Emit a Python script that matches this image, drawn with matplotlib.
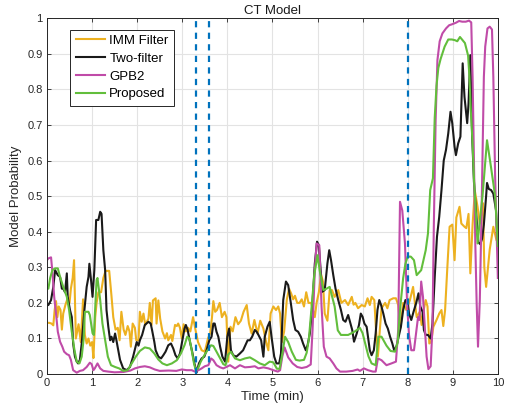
import numpy as np
import matplotlib
matplotlib.use('Agg')
import matplotlib.pyplot as plt

plt.rcParams['font.family'] = ['Liberation Sans', 'DejaVu Sans']

# IMM Filter
t_imm = [0.0, 0.05, 0.1, 0.14, 0.17, 0.2, 0.23, 0.26, 0.3, 0.33, 0.36, 0.41, 0.45, 0.5, 0.53, 0.57, 0.6,
         0.64, 0.7, 0.75, 0.8, 0.84, 0.88, 0.92, 0.96, 1.0, 1.03, 1.07, 1.1, 1.14, 1.2, 1.25, 1.3, 1.38,
         1.43, 1.47, 1.52, 1.57, 1.61, 1.65, 1.7, 1.74, 1.79, 1.83, 1.86, 1.9, 1.95, 1.98, 2.03, 2.06,
         2.1, 2.14, 2.18, 2.25, 2.28, 2.32, 2.35, 2.41, 2.43, 2.47, 2.51, 2.56, 2.62, 2.66, 2.69, 2.75,
         2.78, 2.84, 2.88, 2.91, 2.95, 2.99, 3.03, 3.08, 3.13, 3.18, 3.24, 3.3, 3.35, 3.43, 3.5, 3.57,
         3.62, 3.66, 3.69, 3.73, 3.77, 3.83, 3.88, 3.94, 3.98, 4.02, 4.07, 4.12, 4.18, 4.24, 4.3, 4.36,
         4.43, 4.48, 4.54, 4.6, 4.67, 4.73, 4.8, 4.86, 4.91, 4.96, 5.02, 5.08, 5.13, 5.17, 5.21, 5.26,
         5.32, 5.37, 5.42, 5.46, 5.5, 5.55, 5.6, 5.65, 5.7, 5.75, 5.8, 5.86, 5.9, 5.94, 5.98, 6.03,
         6.08, 6.12, 6.16, 6.22, 6.27, 6.32, 6.38, 6.46, 6.53, 6.61, 6.68, 6.76, 6.8, 6.84, 6.9, 6.98,
         7.05, 7.11, 7.16, 7.2, 7.26, 7.3, 7.34, 7.38, 7.42, 7.5, 7.55, 7.6, 7.68, 7.74, 7.79, 7.84,
         7.9, 7.97, 8.05, 8.12, 8.16, 8.2, 8.27, 8.31, 8.34, 8.4, 8.44, 8.48, 8.52, 8.57, 8.64, 8.7,
         8.75, 8.79, 8.83, 8.88, 8.93, 8.99, 9.04, 9.08, 9.15, 9.19, 9.26, 9.3, 9.35, 9.39, 9.44, 9.49,
         9.55, 9.6, 9.67, 9.7, 9.74, 9.82, 9.9, 9.97, 10.0]
p_imm = [0.144, 0.144, 0.142, 0.137, 0.18, 0.205, 0.16, 0.19, 0.18, 0.125, 0.17, 0.195, 0.21, 0.2, 0.24,
         0.27, 0.32, 0.1, 0.14, 0.09, 0.21, 0.11, 0.086, 0.1, 0.08, 0.09, 0.045, 0.16, 0.2, 0.23, 0.23,
         0.27, 0.29, 0.29, 0.22, 0.16, 0.125, 0.13, 0.095, 0.175, 0.125, 0.11, 0.135, 0.12, 0.077, 0.142,
         0.13, 0.095, 0.095, 0.175, 0.147, 0.17, 0.138, 0.156, 0.2, 0.138, 0.207, 0.213, 0.142, 0.207,
         0.156, 0.12, 0.1, 0.115, 0.095, 0.11, 0.093, 0.138, 0.135, 0.142, 0.13, 0.1, 0.14, 0.12, 0.13,
         0.12, 0.16, 0.12, 0.09, 0.067, 0.063, 0.1, 0.115, 0.16, 0.205, 0.175, 0.18, 0.2, 0.16, 0.175,
         0.16, 0.035, 0.133, 0.12, 0.16, 0.14, 0.15, 0.175, 0.194, 0.142, 0.114, 0.152, 0.114, 0.15,
         0.128, 0.09, 0.067, 0.17, 0.19, 0.18, 0.19, 0.17, 0.09, 0.12, 0.21, 0.24, 0.225, 0.21, 0.22,
         0.2, 0.2, 0.21, 0.19, 0.23, 0.2, 0.2, 0.18, 0.16, 0.2, 0.23, 0.28, 0.26, 0.17, 0.15, 0.236,
         0.236, 0.217, 0.236, 0.2, 0.208, 0.194, 0.217, 0.195, 0.2, 0.185, 0.194, 0.19, 0.213, 0.194,
         0.217, 0.208, 0.12, 0.05, 0.12, 0.185, 0.2, 0.185, 0.208, 0.213, 0.213, 0.194, 0.13, 0.2, 0.18,
         0.208, 0.245, 0.2, 0.16, 0.175, 0.138, 0.17, 0.208, 0.19, 0.086, 0.09, 0.133, 0.152, 0.17,
         0.18, 0.135, 0.18, 0.3, 0.414, 0.42, 0.32, 0.44, 0.47, 0.423, 0.414, 0.41, 0.45, 0.283, 0.42,
         0.515, 0.47, 0.423, 0.48, 0.3, 0.245, 0.35, 0.414, 0.376, 0.41]

# Two-filter
t_two = [0.0, 0.03, 0.09, 0.14, 0.18, 0.24, 0.29, 0.33, 0.36, 0.4, 0.44, 0.46, 0.51, 0.55, 0.58, 0.62,
         0.66, 0.69, 0.73, 0.77, 0.83, 0.88, 0.92, 0.94, 0.98, 1.01, 1.05, 1.09, 1.14, 1.18, 1.21, 1.25,
         1.29, 1.32, 1.36, 1.4, 1.43, 1.47, 1.51, 1.54, 1.62, 1.69, 1.77, 1.84, 1.91, 1.99, 2.03, 2.06,
         2.11, 2.17, 2.25, 2.3, 2.33, 2.38, 2.41, 2.47, 2.53, 2.58, 2.63, 2.69, 2.75, 2.8, 2.85, 2.9,
         2.95, 2.99, 3.05, 3.08, 3.12, 3.17, 3.22, 3.27, 3.32, 3.37, 3.43, 3.49, 3.54, 3.6, 3.65, 3.69,
         3.72, 3.76, 3.8, 3.84, 3.89, 3.95, 4.0, 4.04, 4.08, 4.13, 4.2, 4.28, 4.35, 4.4, 4.45, 4.5,
         4.55, 4.61, 4.65, 4.69, 4.75, 4.8, 4.83, 4.89, 4.94, 4.98, 5.04, 5.09, 5.15, 5.19, 5.24, 5.3,
         5.35, 5.41, 5.46, 5.51, 5.57, 5.63, 5.68, 5.74, 5.78, 5.83, 5.88, 5.94, 5.99, 6.03, 6.07, 6.1,
         6.16, 6.22, 6.26, 6.3, 6.35, 6.4, 6.46, 6.52, 6.57, 6.62, 6.68, 6.72, 6.77, 6.81, 6.87, 6.92,
         6.96, 7.0, 7.04, 7.09, 7.13, 7.16, 7.2, 7.25, 7.29, 7.33, 7.37, 7.41, 7.46, 7.51, 7.56, 7.61,
         7.66, 7.7, 7.75, 7.8, 7.85, 7.9, 7.95, 8.0, 8.03, 8.08, 8.13, 8.19, 8.24, 8.28, 8.33, 8.36,
         8.4, 8.45, 8.51, 8.55, 8.6, 8.65, 8.7, 8.75, 8.8, 8.85, 8.9, 8.95, 8.99, 9.04, 9.07, 9.12,
         9.17, 9.22, 9.26, 9.32, 9.35, 9.39, 9.43, 9.47, 9.52, 9.57, 9.61, 9.65, 9.69, 9.74, 9.76, 9.8,
         9.85, 9.9, 9.96, 10.0]
p_two = [0.194, 0.194, 0.208, 0.245, 0.292, 0.278, 0.273, 0.24, 0.24, 0.23, 0.283, 0.217, 0.18, 0.16,
         0.086, 0.049, 0.035, 0.03, 0.04, 0.086, 0.18, 0.245, 0.273, 0.31, 0.26, 0.217, 0.292, 0.433,
         0.433, 0.456, 0.45, 0.348, 0.292, 0.18, 0.133, 0.095, 0.105, 0.09, 0.114, 0.095, 0.04, 0.016,
         0.011, 0.02, 0.049, 0.09, 0.08, 0.095, 0.11, 0.138, 0.147, 0.142, 0.124, 0.091, 0.067, 0.049,
         0.044, 0.053, 0.063, 0.081, 0.086, 0.072, 0.053, 0.044, 0.058, 0.086, 0.128, 0.138, 0.124,
         0.091, 0.063, 0.03, 0.005, 0.03, 0.044, 0.049, 0.067, 0.095, 0.105, 0.142, 0.142, 0.119, 0.105,
         0.077, 0.049, 0.035, 0.105, 0.128, 0.067, 0.053, 0.049, 0.058, 0.067, 0.081, 0.095, 0.095,
         0.105, 0.124, 0.119, 0.11, 0.095, 0.049, 0.105, 0.133, 0.147, 0.105, 0.049, 0.03, 0.03, 0.058,
         0.208, 0.26, 0.25, 0.198, 0.152, 0.124, 0.119, 0.105, 0.086, 0.067, 0.081, 0.114, 0.18, 0.31,
         0.372, 0.362, 0.292, 0.231, 0.236, 0.311, 0.348, 0.32, 0.278, 0.24, 0.208, 0.18, 0.152, 0.147,
         0.166, 0.147, 0.124, 0.091, 0.114, 0.138, 0.17, 0.161, 0.142, 0.133, 0.095, 0.067, 0.053,
         0.067, 0.114, 0.18, 0.208, 0.194, 0.17, 0.142, 0.128, 0.105, 0.086, 0.067, 0.077, 0.105,
         0.133, 0.18, 0.208, 0.205, 0.17, 0.152, 0.175, 0.2, 0.227, 0.19, 0.175, 0.124, 0.11, 0.11,
         0.1, 0.142, 0.273, 0.386, 0.442, 0.517, 0.6, 0.63, 0.676, 0.737, 0.704, 0.639, 0.615, 0.648,
         0.667, 0.873, 0.779, 0.705, 0.76, 0.896, 0.67, 0.54, 0.45, 0.37, 0.365, 0.38, 0.42, 0.5,
         0.537, 0.52, 0.517, 0.507, 0.46, 0.35]

# GPB2
t_gpb = [0.0, 0.03, 0.09, 0.12, 0.16, 0.2, 0.24, 0.29, 0.34, 0.38, 0.44, 0.49, 0.53, 0.58, 0.66, 0.73,
         0.8, 0.88, 0.95, 0.99, 1.03, 1.06, 1.12, 1.18, 1.25, 1.36, 1.5, 1.7, 1.85, 1.95, 2.06, 2.17,
         2.28, 2.39, 2.5, 2.7, 2.87, 2.99, 3.1, 3.21, 3.28, 3.36, 3.43, 3.5, 3.58, 3.64, 3.69, 3.76,
         3.84, 3.91, 3.98, 4.06, 4.17, 4.28, 4.39, 4.5, 4.61, 4.69, 4.8, 4.91, 5.02, 5.12, 5.17, 5.22,
         5.27, 5.35, 5.45, 5.55, 5.65, 5.76, 5.85, 5.89, 5.94, 5.98, 6.04, 6.09, 6.14, 6.2, 6.27, 6.35,
         6.42, 6.5, 6.64, 6.78, 6.89, 6.94, 7.03, 7.12, 7.23, 7.29, 7.34, 7.42, 7.53, 7.64, 7.74, 7.79,
         7.83, 7.88, 7.94, 7.99, 8.03, 8.08, 8.14, 8.19, 8.23, 8.26, 8.3, 8.34, 8.38, 8.42, 8.46, 8.51,
         8.55, 8.58, 8.62, 8.66, 8.71, 8.77, 8.85, 8.92, 8.99, 9.07, 9.14, 9.21, 9.29, 9.36, 9.41, 9.44,
         9.47, 9.5, 9.53, 9.56, 9.6, 9.64, 9.67, 9.69, 9.72, 9.77, 9.82, 9.87, 9.9, 9.94, 10.0]
p_gpb = [0.32, 0.325, 0.328, 0.287, 0.217, 0.17, 0.119, 0.091, 0.077, 0.063, 0.056, 0.053, 0.04, 0.011,
         0.004, 0.009, 0.011, 0.02, 0.032, 0.028, 0.011, 0.016, 0.03, 0.016, 0.009, 0.007, 0.005, 0.006,
         0.01, 0.016, 0.02, 0.022, 0.019, 0.013, 0.009, 0.01, 0.009, 0.013, 0.011, 0.011, 0.007, 0.011,
         0.016, 0.022, 0.025, 0.044, 0.039, 0.025, 0.019, 0.016, 0.02, 0.025, 0.016, 0.025, 0.019, 0.02,
         0.022, 0.016, 0.019, 0.016, 0.011, 0.007, 0.011, 0.05, 0.075, 0.047, 0.03, 0.02, 0.017, 0.02,
         0.027, 0.124, 0.29, 0.367, 0.362, 0.19, 0.077, 0.049, 0.044, 0.03, 0.016, 0.007, 0.007, 0.009,
         0.013, 0.009, 0.016, 0.011, 0.007, 0.007, 0.044, 0.039, 0.025, 0.03, 0.035, 0.124, 0.484, 0.46,
         0.367, 0.19, 0.11, 0.067, 0.067, 0.12, 0.16, 0.152, 0.26, 0.217, 0.133, 0.049, 0.014, 0.022,
         0.133, 0.414, 0.713, 0.882, 0.935, 0.957, 0.971, 0.98, 0.983, 0.987, 0.992, 0.99, 0.99, 0.993,
         0.988, 0.835, 0.6, 0.367, 0.2, 0.077, 0.208, 0.46, 0.695, 0.835, 0.92, 0.971, 0.976, 0.968,
         0.835, 0.554, 0.27]

# Proposed
t_prop = [0.0, 0.03, 0.07, 0.12, 0.18, 0.24, 0.29, 0.36, 0.44, 0.49, 0.55, 0.61, 0.66, 0.72, 0.77, 0.81,
          0.84, 0.92, 0.95, 1.01, 1.04, 1.1, 1.12, 1.18, 1.23, 1.29, 1.35, 1.42, 1.51, 1.6, 1.69, 1.79,
          1.88, 1.97, 2.06, 2.17, 2.28, 2.38, 2.47, 2.56, 2.66, 2.77, 2.88, 2.97, 3.05, 3.11, 3.16, 3.21,
          3.26, 3.3, 3.35, 3.41, 3.49, 3.56, 3.64, 3.69, 3.76, 3.84, 3.91, 3.96, 4.02, 4.08, 4.17, 4.28,
          4.39, 4.5, 4.61, 4.72, 4.83, 4.94, 5.02, 5.1, 5.16, 5.21, 5.28, 5.35, 5.43, 5.52, 5.6, 5.7,
          5.76, 5.81, 5.87, 5.93, 6.0, 6.05, 6.13, 6.2, 6.27, 6.32, 6.38, 6.45, 6.52, 6.68, 6.83, 6.94,
          7.0, 7.05, 7.13, 7.2, 7.29, 7.35, 7.42, 7.53, 7.62, 7.72, 7.78, 7.83, 7.9, 7.95, 8.0, 8.07,
          8.14, 8.2, 8.3, 8.4, 8.45, 8.5, 8.56, 8.6, 8.64, 8.68, 8.73, 8.82, 8.9, 8.98, 9.05, 9.1, 9.16,
          9.27, 9.34, 9.37, 9.4, 9.44, 9.47, 9.51, 9.55, 9.6, 9.66, 9.71, 9.76, 9.85, 9.94, 10.0]
p_prop = [0.24, 0.24, 0.27, 0.292, 0.297, 0.297, 0.273, 0.245, 0.217, 0.18, 0.119, 0.067, 0.035, 0.03,
          0.049, 0.095, 0.175, 0.175, 0.166, 0.115, 0.11, 0.264, 0.27, 0.208, 0.142, 0.095, 0.049, 0.025,
          0.02, 0.016, 0.009, 0.011, 0.03, 0.049, 0.065, 0.075, 0.072, 0.058, 0.041, 0.03, 0.025, 0.03,
          0.039, 0.058, 0.081, 0.105, 0.1, 0.067, 0.03, 0.011, 0.016, 0.035, 0.053, 0.067, 0.081, 0.079,
          0.063, 0.044, 0.028, 0.025, 0.055, 0.063, 0.044, 0.039, 0.044, 0.047, 0.039, 0.03, 0.025, 0.035,
          0.033, 0.015, 0.015, 0.05, 0.105, 0.09, 0.063, 0.04, 0.038, 0.04, 0.06, 0.1, 0.19, 0.28, 0.334,
          0.29, 0.236, 0.24, 0.245, 0.22, 0.19, 0.123, 0.11, 0.11, 0.12, 0.13, 0.115, 0.09, 0.05, 0.03,
          0.025, 0.105, 0.105, 0.08, 0.065, 0.063, 0.09, 0.18, 0.27, 0.31, 0.33, 0.33, 0.32, 0.278,
          0.292, 0.348, 0.395, 0.517, 0.55, 0.72, 0.81, 0.86, 0.885, 0.92, 0.94, 0.94, 0.938, 0.935,
          0.947, 0.93, 0.895, 0.835, 0.74, 0.647, 0.55, 0.46, 0.367, 0.43, 0.5, 0.58, 0.657, 0.58, 0.5,
          0.36]

# model switch times
switch_times = [3.3, 3.6, 8.0]

fig = plt.figure(figsize=(5.08, 4.12), dpi=100)
ax = fig.add_axes([0.0925, 0.092, 0.8875, 0.864])

lw = 1.5
ax.plot(t_imm, p_imm, color='#EDB120', lw=lw, label='IMM Filter')
ax.plot(t_two, p_two, color='#1a1a1a', lw=lw, label='Two-filter')
ax.plot(t_gpb, p_gpb, color='#C04BA8', lw=lw, label='GPB2')
ax.plot(t_prop, p_prop, color='#62BE3C', lw=lw, label='Proposed')
for ts in switch_times:
    ax.axvline(ts, color='#0072BD', lw=1.6, linestyle=(0, (2.8, 2.4)))

ax.set_xlim(0, 10)
ax.set_ylim(0, 1)
ax.set_xticks(range(0, 11))
ax.set_yticks(np.arange(0, 1.01, 0.1))
ax.set_yticklabels(['0', '0.1', '0.2', '0.3', '0.4', '0.5', '0.6', '0.7', '0.8', '0.9', '1'])
ax.grid(True, color='#e3e3e3', lw=0.8)
ax.set_axisbelow(True)
ax.tick_params(direction='in', top=True, right=True, length=3, width=0.6,
               labelsize=8, colors='#262626', pad=3)
for sp in ax.spines.values():
    sp.set_color('#262626')
    sp.set_linewidth(0.7)

ax.set_xlabel('Time (min)', fontsize=9.5, color='#262626', labelpad=2)
ax.set_ylabel('Model Probability', fontsize=9.5, color='#262626', labelpad=4)
ax.set_title('CT Model', fontsize=9.5, color='#1a1a1a', pad=3)

leg = ax.legend(loc='upper left', bbox_to_anchor=(0.052, 0.968), borderaxespad=0,
                fancybox=False, edgecolor='#262626', fontsize=9.5, handlelength=2.2,
                handletextpad=0.35, labelspacing=0.42, borderpad=0.4, framealpha=1)
leg.get_frame().set_linewidth(0.7)

fig.savefig('out.png', dpi=100)
